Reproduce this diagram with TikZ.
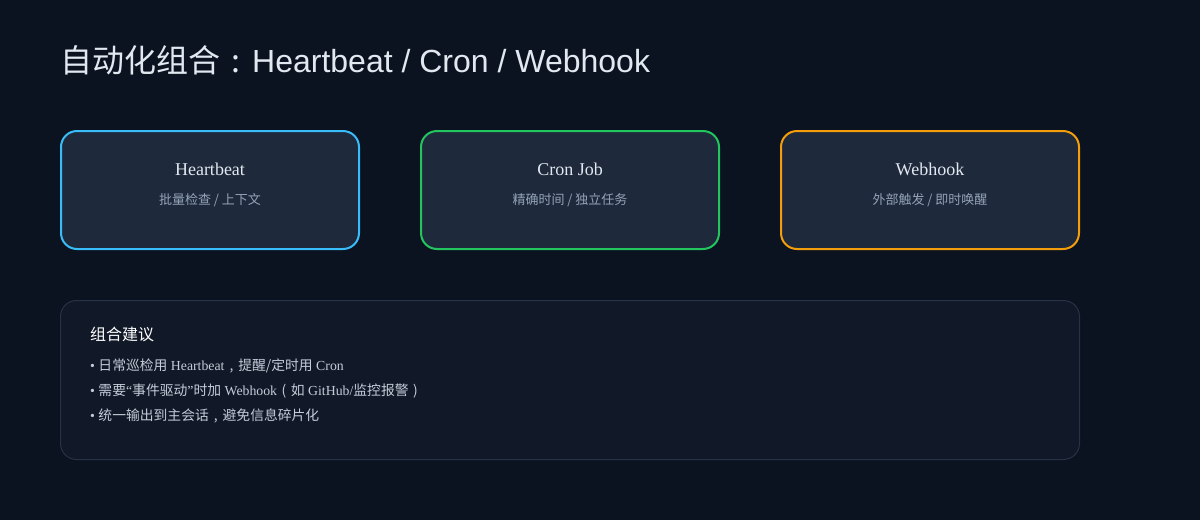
\documentclass[tikz,border=0pt]{standalone}
\usepackage{fontspec}
\setmainfont{Liberation Serif}
\newfontfamily\cjk{Noto Sans CJK SC}
\newfontfamily\headfont{Liberation Sans}
\usetikzlibrary{positioning}

% full-width punctuation, centred in an em box
\newcommand\fwp[1]{\makebox[1em][c]{\cjk #1}}

\definecolor{pagebg}{HTML}{0B1220}
\definecolor{cardfill}{HTML}{1E293B}
\definecolor{panelfill}{HTML}{111827}
\definecolor{panelline}{HTML}{263347}
\definecolor{hbblue}{HTML}{38BDF8}
\definecolor{crongreen}{HTML}{22C55E}
\definecolor{hookorange}{HTML}{F59E0B}
\definecolor{headwhite}{HTML}{E2E8F0}
\definecolor{subgray}{HTML}{94A3B8}
\definecolor{tipgray}{HTML}{C4CCD8}

\tikzset{node distance=360pt, auto}
\tikzset{
  card/.style={draw, line width=2pt, rounded corners=16pt, fill=cardfill,
    minimum width=298pt, minimum height=118pt},
  cardtitle/.style={text=headwhite, font=\fontsize{18}{22}\selectfont},
  cardsub/.style={text=subgray, font=\cjk\fontsize{13}{16}\selectfont},
  panel/.style={draw=panelline, line width=1pt, rounded corners=16pt, fill=panelfill,
    minimum width=1019pt, minimum height=159pt},
  tip/.style={anchor=base west, inner sep=0pt, text=tipgray, font=\fontsize{13.8}{16}\selectfont},
}

\begin{document}
\begin{tikzpicture}[x=1pt,y=-1pt]

  \fill[pagebg] (0,0) rectangle (1200,520);

  \node[anchor=base west, inner sep=0pt, text=headwhite, font=\fontsize{32}{38}\selectfont]
    (title) at (60,72) {{\cjk 自动化组合}\fwp{:}{\headfont Heartbeat / Cron / Webhook}};

  % three cards
  \node[card, draw=hbblue] (hb) at (210,190) {};
  \node[card, draw=crongreen, right of=hb] (cron) {};
  \node[card, draw=hookorange, right of=cron] (hook) {};

  \node[cardtitle] (hbT) at (210,169) {Heartbeat};
  \node[cardsub] (hbS) at (210,200) {批量检查 / 上下文};
  \node[cardtitle] (cronT) at (570,169) {Cron Job};
  \node[cardsub] (cronS) at (570,200) {精确时间 / 独立任务};
  \node[cardtitle] (hookT) at (930,169) {Webhook};
  \node[cardsub] (hookS) at (930,200) {外部触发 / 即时唤醒};

  % advice panel
  \node[panel] (tips) at (570,380) {};
  \node[anchor=base west, inner sep=0pt, text=white, font=\cjk\fontsize{16}{20}\selectfont]
    (tipsHead) at (90,340) {组合建议};
  \node[tip] (tipA) at (90,370)
    {• {\cjk 日常巡检用} Heartbeat\fwp{,}{\cjk 提醒/定时用} Cron};
  \node[tip] (tipB) at (90,395)
    {• {\cjk 需要}“{\cjk 事件驱动}”{\cjk 时加} Webhook\fwp{(}{\cjk 如} GitHub/{\cjk 监控报警}\fwp{)}};
  \node[tip] (tipC) at (90,420)
    {• {\cjk 统一输出到主会话}\fwp{,}{\cjk 避免信息碎片化}};

\end{tikzpicture}
\end{document}
